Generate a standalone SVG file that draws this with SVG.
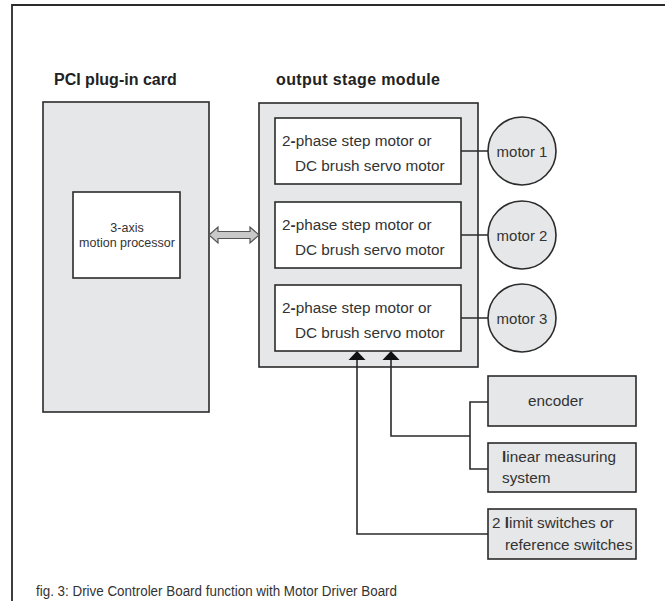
<svg xmlns="http://www.w3.org/2000/svg" width="665" height="601" viewBox="0 0 665 601">
<style>
text{font-family:"Liberation Sans",Arial,sans-serif;fill:#333}
.hdr{font-size:16px;font-weight:bold;fill:#222}
.t{font-size:15.3px}
.gb{fill:#e6e7e8;stroke:#2b2b2b;stroke-width:1.6}
.wb{fill:#fff;stroke:#2b2b2b;stroke-width:1.6}
.ln{fill:none;stroke:#2b2b2b;stroke-width:1.6}
</style>
<rect width="665" height="601" fill="#fff"/>
<path d="M12,601 V5 H665" fill="none" stroke="#2b2b2b" stroke-width="1.8"/>
<text class="hdr" x="54" y="85">PCI plug-in card</text>
<text class="hdr" x="276" y="85" textLength="164">output stage module</text>
<g id="pci">
<rect class="gb" x="43" y="102" width="166" height="310"/>
</g>
<g id="processor">
<rect class="wb" x="73" y="192" width="107" height="86"/>
<text x="127" y="232" font-size="12.5" text-anchor="middle">3-axis</text>
<text x="127" y="247" font-size="12.5" text-anchor="middle">motion processor</text>
</g>
<g id="module">
<rect class="gb" x="259" y="103" width="219" height="264"/>
</g>
<g id="driver1">
<rect class="wb" x="275" y="118" width="186" height="66"/>
<text class="t" x="282" y="146">2<tspan font-weight="bold">-</tspan>phase step motor or</text>
<text class="t" x="295" y="171">DC brush servo motor</text>
</g>
<g id="driver2">
<rect class="wb" x="275" y="202" width="186" height="66"/>
<text class="t" x="282" y="230">2<tspan font-weight="bold">-</tspan>phase step motor or</text>
<text class="t" x="295" y="255">DC brush servo motor</text>
</g>
<g id="driver3">
<rect class="wb" x="275" y="285" width="186" height="66"/>
<text class="t" x="282" y="313">2<tspan font-weight="bold">-</tspan>phase step motor or</text>
<text class="t" x="295" y="338">DC brush servo motor</text>
</g>
<g id="motor1">
<circle class="gb" cx="522" cy="151" r="34"/>
<text x="522" y="157" font-size="15" text-anchor="middle">motor 1</text>
</g>
<g id="motor2">
<circle class="gb" cx="522" cy="235" r="34"/>
<text x="522" y="241" font-size="15" text-anchor="middle">motor 2</text>
</g>
<g id="motor3">
<circle class="gb" cx="522" cy="318" r="34"/>
<text x="522" y="324" font-size="15" text-anchor="middle">motor 3</text>
</g>
<g id="encoder">
<rect class="gb" x="488" y="376" width="148" height="50"/>
<text class="t" x="528" y="406">encoder</text>
</g>
<g id="linear">
<rect class="gb" x="488" y="443" width="148" height="49"/>
<text class="t" x="502" y="462"><tspan font-weight="bold">l</tspan>inear measuring</text>
<text class="t" x="502" y="483">system</text>
</g>
<g id="limit">
<rect class="gb" x="488" y="509" width="148" height="50"/>
<text class="t" x="492" y="528">2 <tspan font-weight="bold">l</tspan>imit  switches or</text>
<text class="t" x="505" y="550">reference switches</text>
</g>
<g id="connectors">
<path class="ln" d="M461,151 H488 M461,235 H488 M461,318 H488"/>
<polygon points="209,235 218,227 218,231.5 250,231.5 250,227 259,235 250,243 250,238.5 218,238.5 218,243" fill="#c9c9c9" stroke="#555" stroke-width="1.2"/>
<path class="ln" d="M357,359 V534 H488"/>
<path class="ln" d="M391,359 V436 H470 M488,402 H470 V469 H488"/>
<polygon points="357,351 348.5,360 365.5,360" fill="#111"/>
<polygon points="391,351 382.5,360 399.5,360" fill="#111"/>
</g>
<text x="36" y="596" font-size="15.5" textLength="361" lengthAdjust="spacingAndGlyphs">fig. 3: Drive Controler Board function with Motor Driver Board</text>
</svg>
